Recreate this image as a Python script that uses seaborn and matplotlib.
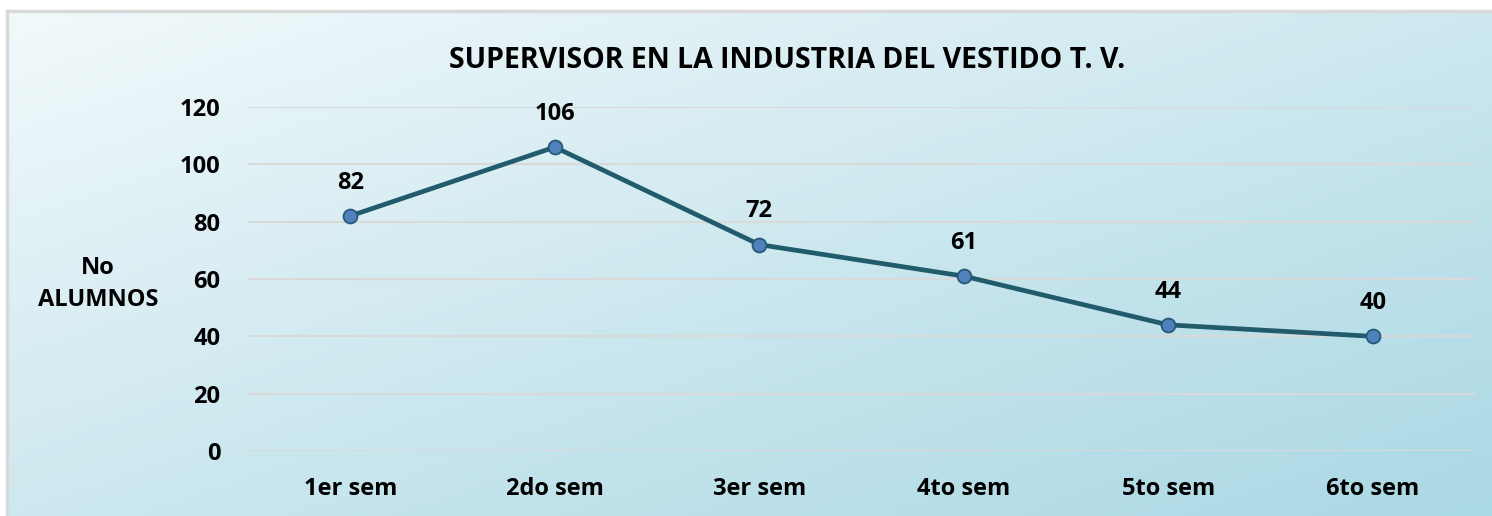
import numpy as np
import pandas as pd
import matplotlib
matplotlib.use("Agg")
import matplotlib.pyplot as plt
import seaborn as sns
from matplotlib.colors import LinearSegmentedColormap

# ----------------------------------------------------
# Datos
# ----------------------------------------------------
semestres = ['1er sem', '2do sem', '3er sem', '4to sem', '5to sem', '6to sem']
alumnos = [82, 106, 72, 61, 44, 40]
titulo = 'SUPERVISOR EN LA INDUSTRIA DEL VESTIDO T. V.'
etiqueta_y = 'No\nALUMNOS'

df = pd.DataFrame({'semestre': semestres, 'alumnos': alumnos})
df['pos'] = np.arange(len(df))

sns.set_style('white')
plt.rcParams['font.family'] = ['Open Sans', 'DejaVu Sans']
plt.rcParams['font.weight'] = 'bold'
plt.rcParams['text.color'] = 'black'
plt.rcParams['xtick.color'] = 'black'
plt.rcParams['ytick.color'] = 'black'

fig = plt.figure(figsize=(14.92, 5.16), dpi=100)

# fondo degradado (claro arriba a la izquierda, azul abajo a la derecha)
bg = fig.add_axes([7 / 1492, 0, 1 - 7 / 1492, 1 - 11 / 516], zorder=0)
xx, yy = np.meshgrid(np.linspace(0, 1, 200), np.linspace(0, 1, 100))
grad = 0.6 * xx + 0.6 * yy
cmap = LinearSegmentedColormap.from_list('fondo', ['#f2f9fb', '#cde8ef', '#aad8e4'])
bg.imshow(grad, cmap=cmap, aspect='auto', origin='upper', extent=[0, 1, 0, 1])
bg.set_xticks([])
bg.set_yticks([])
for s in ['right', 'bottom']:
    bg.spines[s].set_visible(False)
for s in ['left', 'top']:
    bg.spines[s].set_color('#d9d9d9')
    bg.spines[s].set_linewidth(2.5)

ax = fig.add_axes([248 / 1492, 1 - 451 / 516, (1475 - 248) / 1492, (451 - 107) / 516], zorder=1)
ax.patch.set_alpha(0)

sns.lineplot(data=df, x='pos', y='alumnos', ax=ax, color='#215b6c', linewidth=3.4,
             marker='o', markersize=10, markerfacecolor='#4f81bd',
             markeredgecolor='#245a78', markeredgewidth=1.3, zorder=3)

for x, y in zip(df['pos'], df['alumnos']):
    ax.annotate(str(y), (x, y), xytext=(0, 24), textcoords='offset points',
                ha='center', va='center', fontsize=17, fontweight='bold', color='black')

ax.set_xlim(-0.5, len(semestres) - 0.5)
ax.set_ylim(0, 120)
ax.set_yticks(range(0, 121, 20))
ax.set_xticks(df['pos'])
ax.set_xticklabels(semestres)
ax.tick_params(axis='x', labelsize=17, pad=19, length=0)
ax.tick_params(axis='y', labelsize=17, pad=20, length=0)
for lab in ax.get_xticklabels() + ax.get_yticklabels():
    lab.set_fontweight('bold')
ax.grid(axis='y', color='#d9d9d9', linewidth=1.5)
ax.set_axisbelow(True)
sns.despine(ax=ax, left=True, bottom=True)
ax.set_xlabel('')
ax.set_ylabel('')

fig.text(98 / 1492, 1 - 284 / 516, etiqueta_y, ha='center', va='center',
         fontsize=17, fontweight='bold', linespacing=1.45)
fig.text(787 / 1492, 1 - 61 / 516, titulo, ha='center', va='center',
         fontsize=20.5, fontweight='bold')

fig.savefig('out.png', dpi=100)
